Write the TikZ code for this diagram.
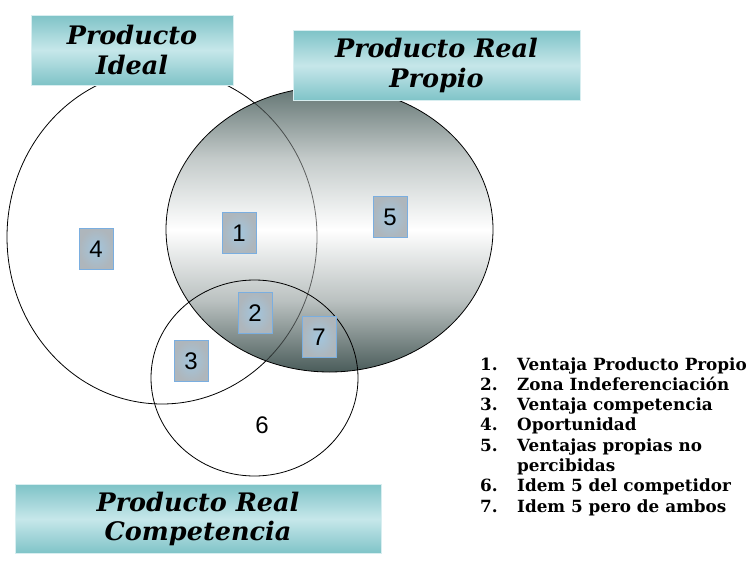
\documentclass[tikz,border=0pt]{standalone}
\usepackage{fontspec}
\setmainfont{DejaVu Serif}
\newfontfamily\numfont{Liberation Sans}
\usetikzlibrary{shapes.geometric}
\definecolor{tealedge}{HTML}{7FC3C7}
\definecolor{tealmid}{HTML}{C6E7EA}
\definecolor{tealborder}{HTML}{D8EEF0}
\definecolor{elltop}{HTML}{627472}
\definecolor{ellbot}{HTML}{4A5C5A}
\definecolor{boxin}{HTML}{A2C6DE}
\definecolor{boxout}{HTML}{AEB6BC}
\definecolor{boxline}{HTML}{7AAEE0}
\pgfdeclareverticalshading{ellgrad}{100bp}{color(0bp)=(ellbot); color(25bp)=(ellbot); color(37.5bp)=(ellbot!38!white); color(50bp)=(white); color(62.5bp)=(elltop!38!white); color(75bp)=(elltop); color(100bp)=(elltop)}
\tikzset{
  titlebox/.style={rectangle, draw=tealborder, line width=0.8pt, top color=tealedge, bottom color=tealedge, middle color=tealmid, align=center, inner sep=0pt,
    font=\fontsize{25.5}{29.5}\selectfont\bfseries\itshape},
  numbox/.style={rectangle, draw=boxline, line width=0.7pt, inner color=boxin, outer color=boxout, minimum width=34pt, minimum height=41pt, inner sep=0pt,
    font=\numfont\fontsize{24}{28}\selectfont},
  numtext/.style={font=\numfont\fontsize{24}{28}\selectfont, inner sep=0pt},
  legnum/.style={anchor=base west, inner sep=0pt, font=\fontsize{16.8}{20}\selectfont\bfseries},
  legtxt/.style={anchor=base west, inner sep=0pt, font=\fontsize{16.8}{20}\selectfont\bfseries},
  outline/.style={draw=black, line width=0.8pt}
}
\begin{document}
\begin{tikzpicture}[x=1pt,y=-1pt]
\useasboundingbox (0,0) rectangle (755,565);
\fill[white] (0,0) rectangle (755,565);
% Producto Ideal circle
\draw[outline] (162,237) ellipse [x radius=155, y radius=167];
% Producto Real Propio ellipse with gradient
\shade[shading=ellgrad, draw=black, line width=0.8pt] (329.5,229.5) ellipse [x radius=163.5, y radius=142.5];
\begin{scope}
  \clip (329.5,229.5) ellipse [x radius=163.5, y radius=142.5];
  \draw[draw=black, draw opacity=0.55, line width=0.8pt] (162,237) ellipse [x radius=155, y radius=167];
\end{scope}
% Competencia circle
\draw[outline] (254.5,378) ellipse [x radius=103.5, y radius=98];
% Title boxes
\node[titlebox, minimum width=202pt, minimum height=70pt] (ideal) at (132,50) {Producto\\Ideal};
\node[titlebox, minimum width=287pt, minimum height=70pt] (propio) at (436.5,65.5) {Producto Real\\Propio};
\node[titlebox, minimum width=366pt, minimum height=69pt] (comp) at (198,519) {Producto Real\\Competencia};
% Number boxes
\node[numbox] (n1) at (239,233) {1};
\node[numbox] (n4) at (96,249) {4};
\node[numbox] (n5) at (390,217) {5};
\node[numbox] (n2) at (255,313) {2};
\node[numbox] (n7) at (319,337) {7};
\node[numbox] (n3) at (191,361) {3};
\node[numtext] (n6) at (262,425) {6};
% Legend
\node[legnum] (k1) at (480,370) {1.};
\node[legtxt] (t1) at (517,370) {Ventaja Producto Propio};
\node[legnum] (k2) at (480,390.3) {2.};
\node[legtxt] (t2) at (517,390.3) {Zona Indeferenciación};
\node[legnum] (k3) at (480,410.6) {3.};
\node[legtxt] (t3) at (517,410.6) {Ventaja competencia};
\node[legnum] (k4) at (480,430.9) {4.};
\node[legtxt] (t4) at (517,430.9) {Oportunidad};
\node[legnum] (k5) at (480,451.2) {5.};
\node[legtxt] (t5) at (517,451.2) {Ventajas propias no};
\node[legtxt] (t5b) at (517,471.5) {percibidas};
\node[legnum] (k6) at (480,491.8) {6.};
\node[legtxt] (t6) at (517,491.8) {Idem 5 del competidor};
\node[legnum] (k7) at (480,512.1) {7.};
\node[legtxt] (t7) at (517,512.1) {Idem 5 pero de ambos};
\end{tikzpicture}
\end{document}
